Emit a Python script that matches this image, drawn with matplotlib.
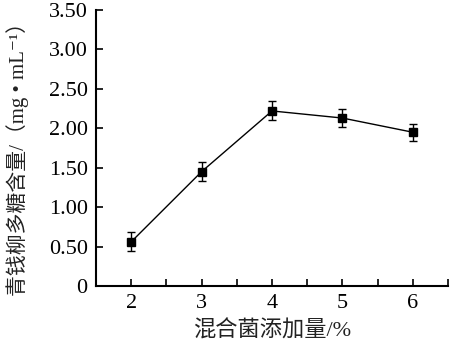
import matplotlib
matplotlib.use("Agg")
import matplotlib.pyplot as plt

plt.rcParams["font.family"] = ["Liberation Serif", "Noto Sans CJK SC", "DejaVu Serif"]

dosage = [2, 3, 4, 5, 6]
content = [0.56, 1.45, 2.22, 2.13, 1.95]
error = [0.12, 0.12, 0.12, 0.11, 0.11]
yticks = [0, 0.5, 1.0, 1.5, 2.0, 2.5, 3.0, 3.5]
ytick_labels = ["0", "0.50", "1.00", "1.50", "2.00", "2.50", "3.00", "3.50"]

fig = plt.figure(figsize=(4.5, 3.56), dpi=100)
ax = fig.add_axes([0.2133, 0.1966, 0.7823, 0.7753])

ax.errorbar(dosage, content, yerr=error, color="black", linewidth=1.0,
            marker="s", markersize=6, elinewidth=1.0, capsize=3, capthick=1.0)

ax.set_xlim(1.5, 6.5)
ax.set_ylim(0, 3.5)
ax.set_xticks([1.5, 2, 2.5, 3, 3.5, 4, 4.5, 5, 5.5, 6, 6.5])
ax.set_xticklabels(["", "2", "", "3", "", "4", "", "5", "", "6", ""])
ax.set_yticks(yticks)
ax.set_yticklabels(ytick_labels)
ax.tick_params(direction="in", length=5, width=1.2, labelsize=16, pad=6)

for side in ["top", "right"]:
    ax.spines[side].set_visible(False)
for side in ["left", "bottom"]:
    ax.spines[side].set_linewidth(1.5)

ax.set_xlabel("混合菌添加量/%", fontsize=16, labelpad=5, color="#222222")
ax.set_ylabel("青钱柳多糖含量/（mg • mL⁻¹）", fontsize=15, color="#222222")
ax.yaxis.set_label_coords(-0.19, 0.48)

fig.savefig("out.png", dpi=100)
